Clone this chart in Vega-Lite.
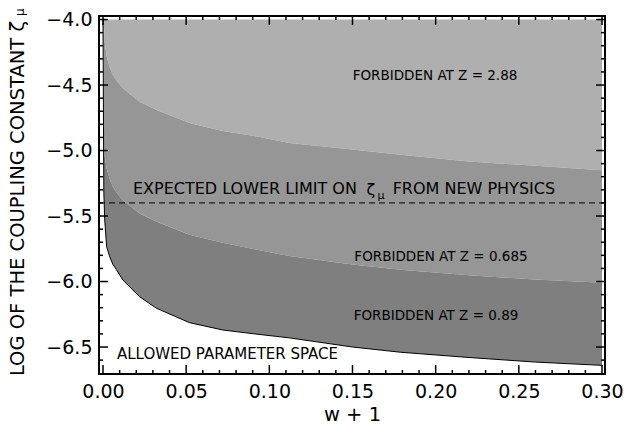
{
  "$schema": "https://vega.github.io/schema/vega-lite/v6.json",
  "width": 506,
  "height": 358,
  "autosize": "none",
  "padding": {"left": 99, "top": 16, "right": 24, "bottom": 62},
  "background": "white",
  "config": {
    "view": {"stroke": "black", "strokeWidth": 2},
    "axis": {
      "domain": false, "grid": false, "ticks": false,
      "labelColor": "black", "titleColor": "black",
      "labelFont": "DejaVu Sans", "titleFont": "DejaVu Sans",
      "labelFontSize": 19, "titleFontSize": 19.5, "titleFontWeight": "normal"
    },
    "text": {"font": "DejaVu Sans", "color": "black"},
    "rule": {"color": "black", "strokeWidth": 1.5}
  },
  "datasets": {
    "curves": [
      {"x": 0, "c1": -4.0, "c2": -4.0, "c3": -4.0},
      {"x": 0.0005, "c1": -4.0, "c2": -4.962, "c3": -5.318},
      {"x": 0.001, "c1": -4.169, "c2": -5.043, "c3": -5.521},
      {"x": 0.0022, "c1": -4.281, "c2": -5.135, "c3": -5.735},
      {"x": 0.004, "c1": -4.362, "c2": -5.216, "c3": -5.81},
      {"x": 0.006, "c1": -4.423, "c2": -5.277, "c3": -5.87},
      {"x": 0.008, "c1": -4.464, "c2": -5.318, "c3": -5.908},
      {"x": 0.012, "c1": -4.525, "c2": -5.379, "c3": -5.989},
      {"x": 0.016, "c1": -4.566, "c2": -5.42, "c3": -6.04},
      {"x": 0.022, "c1": -4.627, "c2": -5.481, "c3": -6.116},
      {"x": 0.032, "c1": -4.688, "c2": -5.542, "c3": -6.203},
      {"x": 0.052, "c1": -4.789, "c2": -5.643, "c3": -6.314},
      {"x": 0.072, "c1": -4.85, "c2": -5.704, "c3": -6.37},
      {"x": 0.092, "c1": -4.891, "c2": -5.755, "c3": -6.401},
      {"x": 0.112, "c1": -4.942, "c2": -5.806, "c3": -6.43},
      {"x": 0.15, "c1": -4.993, "c2": -5.87, "c3": -6.5},
      {"x": 0.179, "c1": -5.033, "c2": -5.91, "c3": -6.54},
      {"x": 0.22, "c1": -5.084, "c2": -5.952, "c3": -6.58},
      {"x": 0.26, "c1": -5.117, "c2": -5.985, "c3": -6.615},
      {"x": 0.30, "c1": -5.15, "c2": -6.009, "c3": -6.64}
    ],
    "xMajor": [{"v": 0}, {"v": 0.05}, {"v": 0.1}, {"v": 0.15}, {"v": 0.2}, {"v": 0.25}, {"v": 0.3}],
    "xMinor": [{"v": 0.01}, {"v": 0.02}, {"v": 0.03}, {"v": 0.04}, {"v": 0.06}, {"v": 0.07}, {"v": 0.08}, {"v": 0.09},
      {"v": 0.11}, {"v": 0.12}, {"v": 0.13}, {"v": 0.14}, {"v": 0.16}, {"v": 0.17}, {"v": 0.18}, {"v": 0.19},
      {"v": 0.21}, {"v": 0.22}, {"v": 0.23}, {"v": 0.24}, {"v": 0.26}, {"v": 0.27}, {"v": 0.28}, {"v": 0.29}],
    "yMajor": [{"v": -6.5}, {"v": -6.0}, {"v": -5.5}, {"v": -5.0}, {"v": -4.5}, {"v": -4.0}],
    "yMinor": [{"v": -6.6}, {"v": -6.4}, {"v": -6.3}, {"v": -6.2}, {"v": -6.1}, {"v": -5.9}, {"v": -5.8}, {"v": -5.7},
      {"v": -5.6}, {"v": -5.4}, {"v": -5.3}, {"v": -5.2}, {"v": -5.1}, {"v": -4.9}, {"v": -4.8}, {"v": -4.7},
      {"v": -4.6}, {"v": -4.4}, {"v": -4.3}, {"v": -4.2}, {"v": -4.1}],
    "forbidden": [
      {"x": 0.1996, "y": -4.431, "text": "FORBIDDEN AT Z = 2.88"},
      {"x": 0.2032, "y": -5.813, "text": "FORBIDDEN AT Z = 0.685"},
      {"x": 0.2002, "y": -6.263, "text": "FORBIDDEN AT Z = 0.89"}
    ],
    "expected": [
      {"x": 0.018, "y": -5.294, "text": "EXPECTED LOWER LIMIT ON"}
    ],
    "allowed": [
      {"x": 0.0084, "y": -6.553, "text": "ALLOWED PARAMETER SPACE"}
    ],
    "rightText": [
      {"x": 0.2718, "y": -5.294, "text": "FROM NEW PHYSICS"}
    ],
    "zeta": [
      {"x": 0.1611, "y": -5.302, "text": "ζ"}
    ],
    "mu": [
      {"x": 0.1671, "y": -5.347, "text": "μ"}
    ],
    "muTitle": [
      {"x": -0.0499, "y": -3.943, "text": "μ"}
    ],
    "limit": [
      {"y": -5.4}
    ]
  },
  "layer": [
    {
      "data": {"name": "curves"},
      "mark": {"type": "area", "color": "#afafaf", "clip": true},
      "encoding": {
        "x": {"field": "x", "type": "quantitative",
          "scale": {"domain": [-0.0024, 0.3018], "nice": false, "zero": false},
          "axis": {"orient": "bottom", "values": [0, 0.05, 0.1, 0.15, 0.2, 0.25, 0.3], "format": ".2f",
            "labelPadding": 8, "title": "w + 1", "titlePadding": 4}},
        "y": {"field": "c1", "type": "quantitative",
          "scale": {"domain": [-6.706, -3.973], "nice": false, "zero": false},
          "axis": {"orient": "left", "values": [-6.5, -6, -5.5, -5, -4.5, -4], "format": ".1f",
            "labelPadding": 7, "title": "LOG OF THE COUPLING CONSTANT ζ",
            "titlePadding": 18, "titleY": 182}},
        "y2": {"datum": -4.0}
      }
    },
    {
      "data": {"name": "curves"},
      "mark": {"type": "area", "color": "#969696", "clip": true},
      "encoding": {
        "x": {"field": "x", "type": "quantitative", "axis": null},
        "y": {"field": "c1", "type": "quantitative", "axis": null},
        "y2": {"field": "c2"}
      }
    },
    {
      "data": {"name": "curves"},
      "mark": {"type": "area", "color": "#7f7f7f", "clip": true},
      "encoding": {
        "x": {"field": "x", "type": "quantitative", "axis": null},
        "y": {"field": "c2", "type": "quantitative", "axis": null},
        "y2": {"field": "c3"}
      }
    },
    {
      "data": {"name": "curves"},
      "mark": {"type": "line", "color": "black", "strokeWidth": 1, "clip": true},
      "encoding": {
        "x": {"field": "x", "type": "quantitative", "axis": null},
        "y": {"field": "c3", "type": "quantitative", "axis": null}
      }
    },
    {
      "data": {"name": "limit"},
      "mark": {"type": "rule", "strokeWidth": 1, "strokeDash": [6, 4]},
      "encoding": {"y": {"field": "y", "type": "quantitative", "axis": null}}
    },
    {
      "data": {"name": "xMajor"},
      "mark": {"type": "rule"},
      "encoding": {
        "x": {"field": "v", "type": "quantitative", "axis": null},
        "y": {"datum": -6.706, "type": "quantitative", "axis": null},
        "y2": {"datum": -6.637}
      }
    },
    {
      "data": {"name": "xMajor"},
      "mark": {"type": "rule"},
      "encoding": {
        "x": {"field": "v", "type": "quantitative", "axis": null},
        "y": {"datum": -3.973, "type": "quantitative", "axis": null},
        "y2": {"datum": -4.042}
      }
    },
    {
      "data": {"name": "xMinor"},
      "mark": {"type": "rule"},
      "encoding": {
        "x": {"field": "v", "type": "quantitative", "axis": null},
        "y": {"datum": -6.706, "type": "quantitative", "axis": null},
        "y2": {"datum": -6.6755}
      }
    },
    {
      "data": {"name": "xMinor"},
      "mark": {"type": "rule"},
      "encoding": {
        "x": {"field": "v", "type": "quantitative", "axis": null},
        "y": {"datum": -3.973, "type": "quantitative", "axis": null},
        "y2": {"datum": -4.0035}
      }
    },
    {
      "data": {"name": "yMajor"},
      "mark": {"type": "rule"},
      "encoding": {
        "y": {"field": "v", "type": "quantitative", "axis": null},
        "x": {"datum": -0.0024, "type": "quantitative", "axis": null},
        "x2": {"datum": 0.003}
      }
    },
    {
      "data": {"name": "yMajor"},
      "mark": {"type": "rule"},
      "encoding": {
        "y": {"field": "v", "type": "quantitative", "axis": null},
        "x": {"datum": 0.3018, "type": "quantitative", "axis": null},
        "x2": {"datum": 0.2964}
      }
    },
    {
      "data": {"name": "yMinor"},
      "mark": {"type": "rule"},
      "encoding": {
        "y": {"field": "v", "type": "quantitative", "axis": null},
        "x": {"datum": -0.0024, "type": "quantitative", "axis": null},
        "x2": {"datum": 0.0}
      }
    },
    {
      "data": {"name": "yMinor"},
      "mark": {"type": "rule"},
      "encoding": {
        "y": {"field": "v", "type": "quantitative", "axis": null},
        "x": {"datum": 0.3018, "type": "quantitative", "axis": null},
        "x2": {"datum": 0.2994}
      }
    },
    {
      "data": {"name": "forbidden"},
      "mark": {"type": "text", "fontSize": 13.5, "align": "center", "baseline": "middle"},
      "encoding": {
        "x": {"field": "x", "type": "quantitative", "axis": null},
        "y": {"field": "y", "type": "quantitative", "axis": null},
        "text": {"field": "text"}
      }
    },
    {
      "data": {"name": "expected"},
      "mark": {"type": "text", "fontSize": 16, "align": "left", "baseline": "middle"},
      "encoding": {
        "x": {"field": "x", "type": "quantitative", "axis": null},
        "y": {"field": "y", "type": "quantitative", "axis": null},
        "text": {"field": "text"}
      }
    },
    {
      "data": {"name": "allowed"},
      "mark": {"type": "text", "fontSize": 15, "align": "left", "baseline": "middle"},
      "encoding": {
        "x": {"field": "x", "type": "quantitative", "axis": null},
        "y": {"field": "y", "type": "quantitative", "axis": null},
        "text": {"field": "text"}
      }
    },
    {
      "data": {"name": "rightText"},
      "mark": {"type": "text", "fontSize": 16, "align": "right", "baseline": "middle"},
      "encoding": {
        "x": {"field": "x", "type": "quantitative", "axis": null},
        "y": {"field": "y", "type": "quantitative", "axis": null},
        "text": {"field": "text"}
      }
    },
    {
      "data": {"name": "zeta"},
      "mark": {"type": "text", "fontSize": 16, "align": "center", "baseline": "middle"},
      "encoding": {
        "x": {"field": "x", "type": "quantitative", "axis": null},
        "y": {"field": "y", "type": "quantitative", "axis": null},
        "text": {"field": "text"}
      }
    },
    {
      "data": {"name": "mu"},
      "mark": {"type": "text", "fontSize": 11, "align": "center", "baseline": "middle"},
      "encoding": {
        "x": {"field": "x", "type": "quantitative", "axis": null},
        "y": {"field": "y", "type": "quantitative", "axis": null},
        "text": {"field": "text"}
      }
    },
    {
      "data": {"name": "muTitle"},
      "mark": {"type": "text", "fontSize": 12, "align": "center", "baseline": "middle", "angle": 270},
      "encoding": {
        "x": {"field": "x", "type": "quantitative", "axis": null},
        "y": {"field": "y", "type": "quantitative", "axis": null},
        "text": {"field": "text"}
      }
    }
  ],
  "resolve": {"axis": {"x": "independent", "y": "independent"}}
}
